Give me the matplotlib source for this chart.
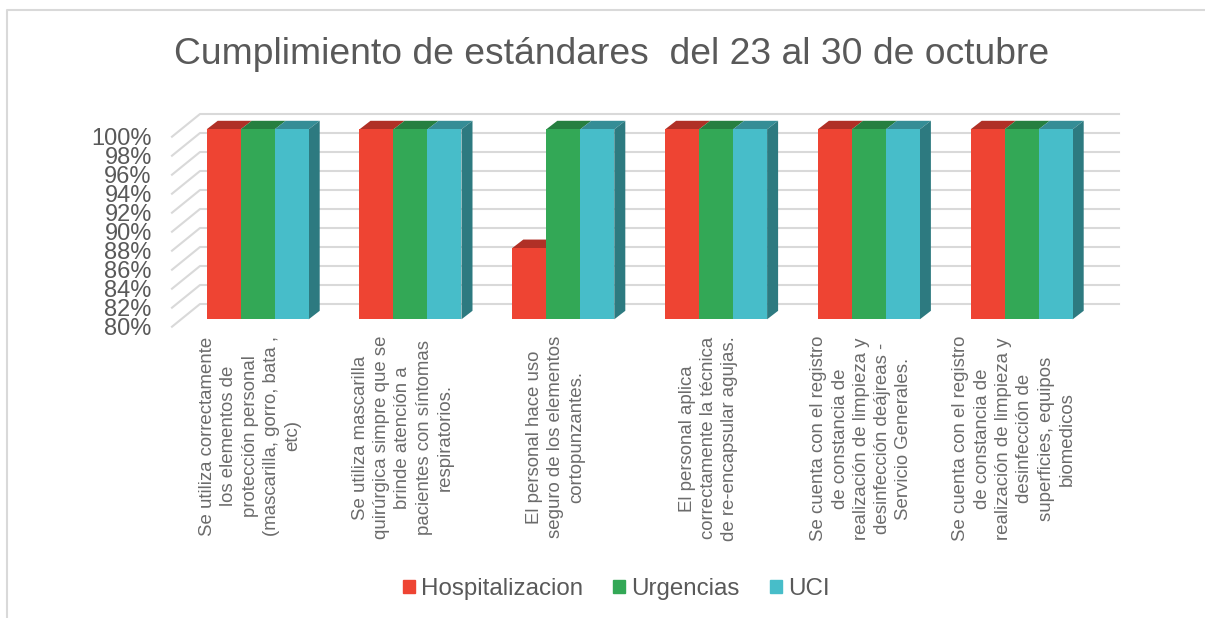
import matplotlib
matplotlib.use('Agg')
import matplotlib.pyplot as plt
from matplotlib.patches import Patch, Polygon
from matplotlib.transforms import ScaledTranslation

plt.rcParams['font.family'] = 'Liberation Sans'

# Chart data
title = 'Cumplimiento de estándares  del 23 al 30 de octubre'
categories = [
    'Se utiliza correctamente\nlos elementos de\nprotección personal\n(mascarilla, gorro, bata ,\netc)',
    'Se utiliza mascarilla\nquirúrgica simpre que se\nbrinde atención a\npacientes con síntomas\nrespiratorios.',
    'El personal hace uso\nseguro de los elementos\ncortopunzantes.',
    'El personal aplica\ncorrectamente la técnica\nde re-encapsular agujas.',
    'Se cuenta con el registro\nde constancia de\nrealización de limpieza y\ndesinfección deájreas -\nServicio Generales.',
    'Se cuenta con el registro\nde constancia de\nrealización de limpieza y\ndesinfección de\nsuperficies, equipos\nbiomedicos',
]
hospitalizacion = [100, 100, 87.5, 100, 100, 100]
urgencias = [100, 100, 100, 100, 100, 100]
uci = [100, 100, 100, 100, 100, 100]
series_names = ['Hospitalizacion', 'Urgencias', 'UCI']
ticks = list(range(80, 102, 2))

front_colors = ['#EE4433', '#33A856', '#47BDC9']
top_colors = ['#B03026', '#267F40', '#358D96']
side_color = '#2D7A80'
grid_color = '#D9D9D9'
text_color = '#595959'
label_color = '#6B6B6B'

W, H = 1205, 618
fig = plt.figure(figsize=(W / 100, H / 100), dpi=100)

# axes = front plane of the bars, in pixels of the picture
left, right, top, bottom = 172, 1090, 129.3, 319.3
ax = fig.add_axes([left / W, 1 - bottom / H, (right - left) / W, (bottom - top) / H])
px_x = 152.8
px_y = (bottom - top) / 20
ax.set_xlim(-(257.7 - left) / px_x, -(257.7 - left) / px_x + (right - left) / px_x)
ax.set_ylim(80, 100)

bar_w = 34 / px_x
dx, dy = 11 / px_x, 8.5 / px_y

# floor and back wall lines
for t in ticks:
    x0 = ax.get_xlim()[0]
    ax.plot([x0, x0 + 28 / px_x, x0 + 947 / px_x],
            [t - 7.4 / px_y, t + 15.3 / px_y, t + 15.3 / px_y],
            color=grid_color, lw=1.5, clip_on=False, zorder=1)

# bars with the fake 3d faces
for s, values in enumerate([hospitalizacion, urgencias, uci]):
    for i, v in enumerate(values):
        x = i + (s - 1.5) * bar_w
        ax.bar(x, v - 80, bottom=80, width=bar_w, align='edge', color=front_colors[s], zorder=3)
        ax.add_patch(Polygon([(x, v), (x + bar_w, v), (x + bar_w + dx, v + dy), (x + dx, v + dy)],
                             closed=True, color=top_colors[s], lw=0, clip_on=False, zorder=2))
        if s == 2:
            ax.add_patch(Polygon([(x + bar_w, 80), (x + bar_w + dx, 80 + dy),
                                  (x + bar_w + dx, v + dy), (x + bar_w, v)],
                                 closed=True, color=side_color, lw=0, clip_on=False, zorder=2))

ax.set_yticks(ticks)
ax.set_yticklabels([f'{t}%' for t in ticks], fontsize=17, color=text_color)
ax.tick_params(axis='y', length=0, pad=14.5)
for lab in ax.get_yticklabels():
    lab.set_transform(lab.get_transform() + ScaledTranslation(0, -7.5 / 100, fig.dpi_scale_trans))

ax.set_xticks(range(len(categories)))
ax.set_xticklabels(categories, rotation=90, fontsize=13.4, color=label_color,
                   ha='center', va='top', multialignment='center', linespacing=1.33)
ax.tick_params(axis='x', length=0, pad=12)
for lab in ax.get_xticklabels():
    lab.set_transform(lab.get_transform() + ScaledTranslation(-7.5 / 100, 0, fig.dpi_scale_trans))

for sp in ax.spines.values():
    sp.set_visible(False)
ax.patch.set_alpha(0)

fig.text(612 / W, 1 - 55 / H, title, fontsize=26.8, color=text_color, ha='center', va='center')

handles = [Patch(color=c) for c in front_colors]
fig.legend(handles, series_names, loc='center', bbox_to_anchor=(616 / W, 1 - 589 / H), ncol=3,
           frameon=False, fontsize=17.4, labelcolor=text_color, handlelength=0.5, handleheight=0.5,
           handletextpad=0.25, columnspacing=1.25)

# outer frame of the screenshot
fig.add_artist(plt.Line2D([7 / W, 7 / W, 1], [0, 1 - 10 / H, 1 - 10 / H], color='#D9D9D9', lw=1.5))

fig.savefig('out.png', dpi=100)
